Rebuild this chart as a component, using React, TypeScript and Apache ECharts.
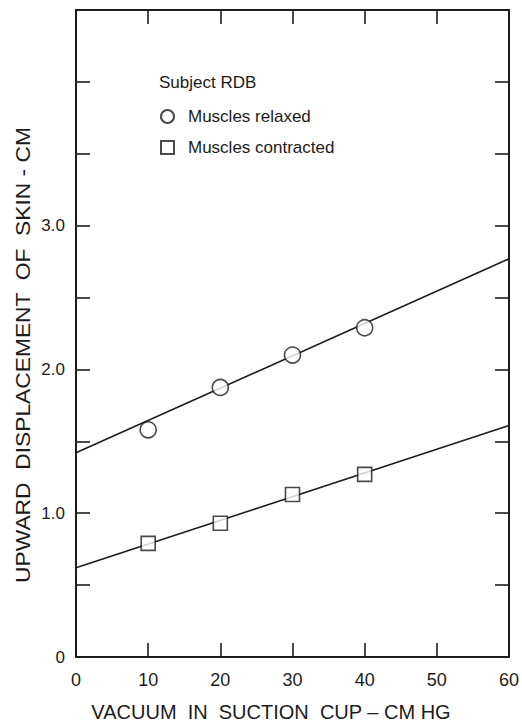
import React, { useEffect, useRef } from "react";
import * as echarts from "echarts";

const xTicks = [0, 10, 20, 30, 40, 50, 60];
const vacuum = [10, 20, 30, 40];
const relaxed = [1.58, 1.875, 2.1, 2.29];
const contracted = [0.79, 0.93, 1.13, 1.27];
const relaxedFit = [
  [0, 1.42],
  [60, 2.77],
];
const contractedFit = [
  [0, 0.62],
  [60, 1.61],
];
const yLabeled = [0, 1, 2, 3];

const seriesNames = ["Muscles relaxed", "Muscles contracted"];
const legendTitle = "Subject RDB";
const xTitle = "VACUUM  IN  SUCTION  CUP \u2013 CM HG";
const yTitle = "UPWARD  DISPLACEMENT  OF  SKIN - CM";

const FONT = "Liberation Sans";
const INK = "#1c1c1c";

export default function App() {
  const ref = useRef<HTMLDivElement>(null);
  useEffect(() => {
    if (!ref.current) return;
    const chart = echarts.init(ref.current, null, { renderer: "svg" });
    const axisLine = { show: true, onZero: false, lineStyle: { color: INK, width: 2 } };
    const tick = { show: true, inside: true, length: 14, lineStyle: { color: INK, width: 1.6 } };
    chart.setOption({
      animation: false,
      backgroundColor: "#ffffff",
      grid: { left: 76, right: 11, top: 10, bottom: 68 },
      title: {
        text: legendTitle,
        left: 159,
        top: 74,
        padding: 0,
        textStyle: { fontFamily: FONT, fontSize: 17, fontWeight: "normal", color: INK },
      },
      legend: {
        orient: "vertical",
        left: 160,
        top: 108,
        padding: 0,
        itemWidth: 13,
        itemHeight: 13,
        itemGap: 14,
        data: [
          { name: seriesNames[0], icon: "circle" },
          { name: seriesNames[1], icon: "rect" },
        ],
        textStyle: { fontFamily: FONT, fontSize: 17, color: INK, padding: [0, 0, 0, 9] },
      },
      xAxis: [
        {
          type: "value",
          min: 0,
          max: 60,
          interval: 10,
          position: "bottom",
          axisLine,
          axisTick: tick,
          splitLine: { show: false },
          axisLabel: {
            margin: 14,
            fontFamily: FONT,
            fontSize: 18,
            color: INK,
            formatter: (v: number) => (xTicks.includes(v) ? String(v) : ""),
          },
        },
        {
          type: "value",
          min: 0,
          max: 60,
          interval: 10,
          position: "top",
          axisLine,
          axisTick: tick,
          splitLine: { show: false },
          axisLabel: { show: false },
        },
      ],
      yAxis: [
        {
          type: "value",
          min: 0,
          max: 4.5,
          interval: 0.5,
          position: "left",
          axisLine,
          axisTick: tick,
          splitLine: { show: false },
          axisLabel: {
            margin: 11,
            fontFamily: FONT,
            fontSize: 17,
            color: INK,
            formatter: (v: number) =>
              yLabeled.includes(v) ? (v === 0 ? "0" : v.toFixed(1)) : "",
          },
        },
        {
          type: "value",
          min: 0,
          max: 4.5,
          interval: 0.5,
          position: "right",
          axisLine,
          axisTick: tick,
          splitLine: { show: false },
          axisLabel: { show: false },
        },
      ],
      series: [
        {
          type: "line",
          name: "relaxed fit",
          data: relaxedFit,
          showSymbol: false,
          lineStyle: { color: INK, width: 1.6 },
          z: 2,
        },
        {
          type: "line",
          name: "contracted fit",
          data: contractedFit,
          showSymbol: false,
          lineStyle: { color: INK, width: 1.6 },
          z: 2,
        },
        {
          type: "scatter",
          name: seriesNames[0],
          data: vacuum.map((x, i) => [x, relaxed[i]]),
          symbol: "circle",
          symbolSize: 16,
          itemStyle: { color: "#ffffff", borderColor: INK, borderWidth: 1.6 },
          z: 5,
        },
        {
          type: "scatter",
          name: seriesNames[1],
          data: vacuum.map((x, i) => [x, contracted[i]]),
          symbol: "rect",
          symbolSize: 14,
          itemStyle: { color: "#ffffff", borderColor: INK, borderWidth: 1.6 },
          z: 5,
        },
      ],
      graphic: [
        {
          type: "text",
          x: 271,
          y: 712,
          style: {
            text: xTitle,
            fontFamily: FONT,
            fontSize: 20,
            fill: INK,
            align: "center",
            verticalAlign: "middle",
          },
        },
        {
          type: "text",
          x: 23,
          y: 355,
          rotation: Math.PI / 2,
          scaleX: 1.14,
          style: {
            text: yTitle,
            fontFamily: FONT,
            fontSize: 20,
            fill: INK,
            align: "center",
            verticalAlign: "middle",
          },
        },
      ],
    });
    return () => chart.dispose();
  }, []);
  return (
    <div
      ref={ref}
      style={{ position: "fixed", left: 0, top: 0, width: 522, height: 725, background: "#fff" }}
    />
  );
}
